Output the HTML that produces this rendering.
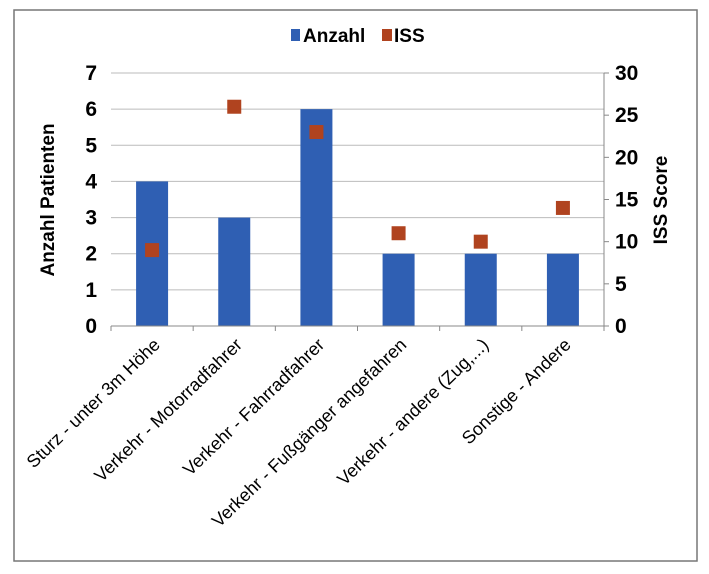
<!DOCTYPE html>
<html><head><meta charset="utf-8"><style>
body{margin:0;background:#fff}
svg{display:block;font-family:"Liberation Sans",Arial,sans-serif}
</style></head><body>
<svg width="709" height="574" viewBox="0 0 709 574">
<rect x="14" y="10" width="683" height="551" fill="#fff" stroke="#777" stroke-width="1.5"/>
<g id="grid"></g><g id="bars"></g><g id="pts"></g><g id="axes"></g>
<g>
<rect x="291" y="29" width="9" height="12" fill="#2f5fb3"/>
<text x="303" y="42" font-size="19" font-weight="bold">Anzahl</text>
<rect x="382" y="29" width="10" height="12" fill="#b0431f"/>
<text x="394" y="42" font-size="19" font-weight="bold">ISS</text>
</g>
<text transform="translate(54,200) rotate(-90)" text-anchor="middle" font-size="19" font-weight="bold">Anzahl Patienten</text>
<text transform="translate(667,200) rotate(-90)" text-anchor="middle" font-size="19" font-weight="bold">ISS Score</text>
</svg>
<script>
const categories=["Sturz - unter 3m Höhe","Verkehr - Motorradfahrer","Verkehr - Fahrradfahrer","Verkehr - Fußgänger angefahren","Verkehr - andere (Zug,...)","Sonstige - Andere"];
const anzahl=[4,3,6,2,2,2];
const iss=[9,26,23,11,10,14];
const leftTicks=[0,1,2,3,4,5,6,7];
const rightTicks=[0,5,10,15,20,25,30];
const NS="http://www.w3.org/2000/svg";
const L=111,R=604,T=73,B=326;
const yL=v=>B-(v/7)*(B-T), yR=v=>B-(v/30)*(B-T);
const step=(R-L)/categories.length, xc=i=>L+step*(i+0.5);
function mk(g,tag,a){const e=document.createElementNS(NS,tag);for(const k in a)e.setAttribute(k,a[k]);document.getElementById(g).appendChild(e);return e;}
leftTicks.forEach(v=>{
 const l=mk('grid','line',{x1:L,x2:R,y1:yL(v),y2:yL(v),stroke:'#bbb','stroke-width':1});
 
 
 const t=mk('axes','text',{x:L-14,y:yL(v)+7,'text-anchor':'end','font-size':21,'font-weight':'bold'});t.textContent=v;
 
 
});
rightTicks.forEach(v=>{
 const tk=mk('axes','line',{x1:R,x2:R+5,y1:yR(v),y2:yR(v),stroke:'#888'});
 
 
 const t=mk('axes','text',{x:R+11,y:yR(v)+7,'font-size':21,'font-weight':'bold'});t.textContent=v;
 
 
});
const ax=mk('axes','line',{x1:L,x2:R,y1:B,y2:B,stroke:'#888'});


const ra=mk('axes','line',{x1:R,x2:R,y1:T,y2:B,stroke:'#888'});


for(let i=0;i<=categories.length;i++){const tk=mk('axes','line',{x1:L+step*i,x2:L+step*i,y1:B,y2:B+5,stroke:'#888'});
 
 }
categories.forEach((c,i)=>{
 const b=mk('bars','rect',{x:xc(i)-16,y:yL(anzahl[i]),width:32,height:B-yL(anzahl[i]),fill:'#2f5fb3'});
 
 
 const p=mk('pts','rect',{x:xc(i)-7,y:yR(iss[i])-7,width:14,height:14,fill:'#b0431f'});
 
 
 const t=mk('axes','text',{x:0,y:0,'text-anchor':'end','font-size':18,transform:`translate(${xc(i)+9},${B+20}) rotate(-44)`});t.textContent=c;
 
 
});
</script>
</body></html>
